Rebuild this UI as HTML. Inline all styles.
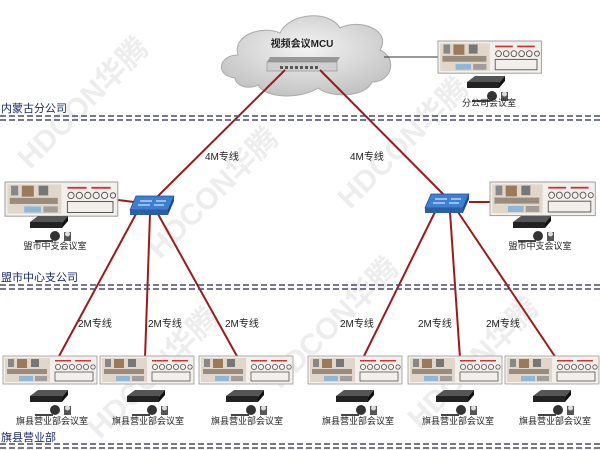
<!DOCTYPE html>
<html><head><meta charset="utf-8"><style>
html,body{margin:0;padding:0;background:#fff;}
svg{display:block;}
text{font-family:"Liberation Sans","Noto Sans CJK SC",sans-serif;}
</style></head><body>
<svg width="600" height="450" viewBox="0 0 600 450" xmlns="http://www.w3.org/2000/svg">
<defs>
<radialGradient id="cg" cx="50%" cy="40%" r="60%"><stop offset="0" stop-color="#f4f4f4"/><stop offset="1" stop-color="#c4c4c4"/></radialGradient>
<g id="scr">
 <rect x="0" y="0" width="94" height="28" fill="#f3f0ec" stroke="#999" stroke-width="0.8"/>
 <rect x="2" y="2" width="45" height="24" fill="#e0d6ca"/>
 <rect x="5" y="3" width="6" height="8" fill="#888"/>
 <rect x="14" y="3" width="10" height="9" fill="#9a7a5a"/>
 <rect x="28" y="3" width="8" height="8" fill="#777"/>
 <rect x="4" y="13" width="40" height="5" fill="#6a5a4a" opacity="0.6"/>
 <rect x="16" y="20" width="14" height="5" fill="#8fb8d8"/>
 <rect x="32" y="20" width="12" height="5" fill="#777" opacity="0.6"/>
 <rect x="52" y="4" width="16" height="1.5" fill="#c33"/>
 <rect x="72" y="4" width="16" height="1.5" fill="#c33"/>
 <g fill="none" stroke="#555" stroke-width="0.8">
  <circle cx="55" cy="11" r="2.6"/><circle cx="62" cy="11" r="2.6"/><circle cx="69" cy="11" r="2.6"/><circle cx="76" cy="11" r="2.6"/><circle cx="83" cy="11" r="2.6"/><circle cx="90" cy="11" r="2.2"/>
  <rect x="52" y="16" width="38" height="9"/>
 </g>
</g>
<g id="dev">
 <polygon points="0,6 8,0 38,0 32,7" fill="#555"/>
 <rect x="0" y="6" width="32" height="6" fill="#222"/>
 <polygon points="32,7 38,0 38,5 32,12" fill="#111"/>
 <circle cx="25" cy="20" r="5" fill="#333"/>
 <rect x="5" y="24" width="18" height="2" fill="#444"/>
 <rect x="34" y="16" width="7" height="9" fill="#555"/>
 <circle cx="37.5" cy="18" r="2.5" fill="#ddd"/>
</g>
<g id="sw">
 <polygon points="6,0 44,0 38,14 0,14" fill="#3f7fd0" stroke="#1d4f8f" stroke-width="0.8"/>
 <polygon points="0,14 38,14 38,19 0,19" fill="#2a5fa8"/>
 <polygon points="38,14 44,0 44,5 38,19" fill="#1d4a8a"/>
 <path d="M10 5 h12 M26 5 h10 M8 9 h12 M24 9 h10" stroke="#cfe3ff" stroke-width="1.2"/>
</g>
</defs>

<!-- watermarks -->
<g fill="#ededed" font-weight="bold" font-size="30">
 <text transform="translate(30,170) rotate(-45)">HDCON华腾</text>
 <text transform="translate(160,260) rotate(-45)">HDCON华腾</text>
 <text transform="translate(350,210) rotate(-45)">HDCON华腾</text>
 <text transform="translate(100,440) rotate(-45)">HDCON华腾</text>
 <text transform="translate(280,390) rotate(-45)">HDCON华腾</text>
 <text transform="translate(420,430) rotate(-45)">HDCON华腾</text>
</g>

<!-- cloud -->
<path d="M235 78 C215 76 218 55 238 55 C232 35 262 25 280 33 C290 12 330 10 340 28 C360 18 392 30 380 50 C398 58 392 82 372 82 C365 98 330 98 318 88 C300 100 265 98 258 85 C248 90 236 86 235 78 Z" fill="url(#cg)" stroke="#aaa" stroke-width="1"/>
<text x="302" y="47" font-size="10" font-weight="bold" text-anchor="middle" fill="#222">视频会议MCU</text>
<polygon points="270,57 340,57 337,62 267,62" fill="#999"/>
<rect x="267" y="62" width="70" height="9" fill="#cfcfcf" stroke="#888" stroke-width="0.6"/>
<g fill="#555"><rect x="280" y="66" width="3" height="3"/><rect x="285" y="66" width="3" height="3"/><rect x="290" y="66" width="3" height="3"/><rect x="295" y="66" width="3" height="3"/><rect x="300" y="66" width="3" height="3"/><rect x="305" y="66" width="3" height="3"/><rect x="310" y="66" width="3" height="3"/><rect x="315" y="66" width="3" height="3"/></g>

<line x1="384" y1="57" x2="438" y2="57" stroke="#333" stroke-width="1"/>
<g transform="translate(438,41) scale(1.1,1.15)"><use href="#scr"/></g>
<g transform="translate(467,76)"><use href="#dev"/></g>
<text x="489" y="106" font-size="9" text-anchor="middle" fill="#222">分公司会议室</text>

<!-- red lines -->
<g stroke="#9b1b1b" stroke-width="2" fill="none">
 <line x1="285" y1="70" x2="156" y2="198"/>
 <line x1="320" y1="70" x2="447" y2="198"/>
 <line x1="118" y1="200" x2="134" y2="202"/>
 <line x1="469" y1="202" x2="490" y2="202"/>
 <line x1="136" y1="214" x2="58" y2="358"/>
 <line x1="150" y1="214" x2="145" y2="358"/>
 <line x1="158" y1="214" x2="238" y2="358"/>
 <line x1="435" y1="212" x2="363" y2="358"/>
 <line x1="450" y1="212" x2="460" y2="358"/>
 <line x1="458" y1="212" x2="556" y2="358"/>
</g>

<g transform="translate(130,196)"><use href="#sw"/></g>
<g transform="translate(425,194)"><use href="#sw"/></g>

<g font-size="10" fill="#222">
 <text x="205" y="160">4M专线</text>
 <text x="350" y="160">4M专线</text>
 <text x="78" y="327">2M专线</text>
 <text x="148" y="327">2M专线</text>
 <text x="225" y="327">2M专线</text>
 <text x="340" y="327">2M专线</text>
 <text x="418" y="327">2M专线</text>
 <text x="486" y="327">2M专线</text>
</g>

<!-- mid rooms -->
<g transform="translate(5,182) scale(1.2,1.22)"><use href="#scr"/></g>
<g transform="translate(30,216)"><use href="#dev"/></g>
<text x="55" y="249" font-size="9" text-anchor="middle" fill="#222">盟市中支会议室</text>
<g transform="translate(490,182) scale(1.12,1.2)"><use href="#scr"/></g>
<g transform="translate(513,216)"><use href="#dev"/></g>
<text x="540" y="249" font-size="9" text-anchor="middle" fill="#222">盟市中支会议室</text>

<!-- bottom rooms -->
<g transform="translate(3,356)"><use href="#scr"/></g>
<g transform="translate(100,356)"><use href="#scr"/></g>
<g transform="translate(199,356)"><use href="#scr"/></g>
<g transform="translate(308,356)"><use href="#scr"/></g>
<g transform="translate(408,356)"><use href="#scr"/></g>
<g transform="translate(505,356)"><use href="#scr"/></g>
<g transform="translate(30,390)"><use href="#dev"/></g>
<g transform="translate(127,390)"><use href="#dev"/></g>
<g transform="translate(226,390)"><use href="#dev"/></g>
<g transform="translate(336,390)"><use href="#dev"/></g>
<g transform="translate(436,390)"><use href="#dev"/></g>
<g transform="translate(533,390)"><use href="#dev"/></g>
<g font-size="9" text-anchor="middle" fill="#222">
 <text x="52" y="424">旗县营业部会议室</text>
 <text x="148" y="424">旗县营业部会议室</text>
 <text x="247" y="424">旗县营业部会议室</text>
 <text x="358" y="424">旗县营业部会议室</text>
 <text x="458" y="424">旗县营业部会议室</text>
 <text x="555" y="424">旗县营业部会议室</text>
</g>

<!-- dashed separators -->
<g stroke="#4a4a6a" stroke-width="1.5" stroke-dasharray="6,3">
 <line x1="0" y1="116" x2="600" y2="116"/><line x1="0" y1="120" x2="600" y2="120"/>
 <line x1="0" y1="285" x2="600" y2="285"/><line x1="0" y1="289" x2="600" y2="289"/>
 <line x1="0" y1="444" x2="600" y2="444"/><line x1="0" y1="448" x2="600" y2="448"/>
</g>
<g font-size="11" fill="#1a2a6a">
 <text x="1" y="112">内蒙古分公司</text>
 <text x="1" y="281">盟市中心支公司</text>
 <text x="1" y="441">旗县营业部</text>
</g>
</svg>
</body></html>
